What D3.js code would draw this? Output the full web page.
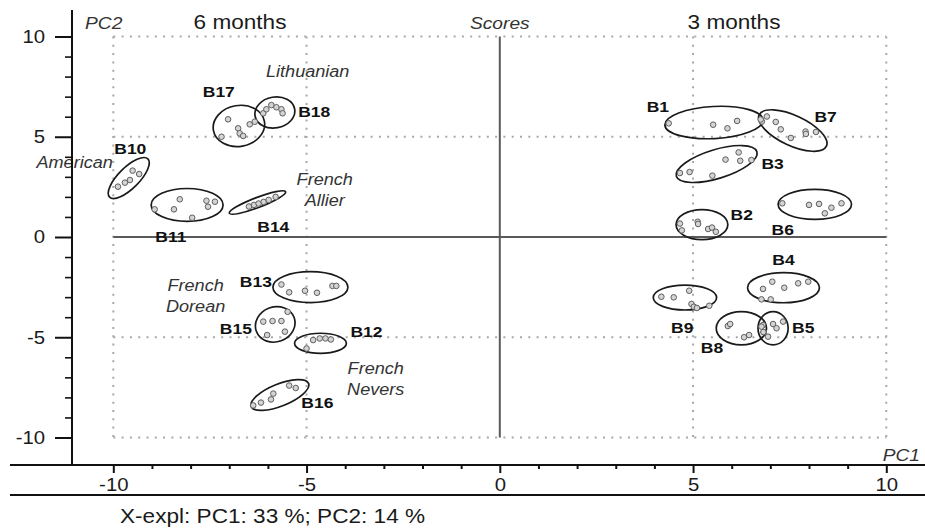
<!DOCTYPE html>
<html>
<head>
<meta charset="utf-8">
<script src="https://cdn.jsdelivr.net/npm/d3@7"></script>
<style>
  html, body { margin: 0; padding: 0; background: #fff; }
  svg { display: block; font-family: "Liberation Sans", Arial, Helvetica, sans-serif; }
</style>
</head>
<body>
<svg id="chart" width="925" height="531"></svg>
<script>
// PCA scores, one entry per sample group
const groups = ['B1', 'B2', 'B3', 'B4', 'B5', 'B6', 'B7', 'B8', 'B9',
                'B10', 'B11', 'B12', 'B13', 'B14', 'B15', 'B16', 'B17', 'B18'];

const pc1 = [
  [4.37, 5.52, 5.89, 6.14, 6.78],
  [4.66, 4.71, 5.12, 5.13, 5.39, 5.49, 5.59],
  [4.66, 4.91, 5.50, 5.84, 6.18, 6.22, 6.51],
  [6.81, 7.05, 7.36, 7.72, 7.98, 6.77, 7.01],
  [6.81, 7.07, 7.16, 7.33, 6.83, 6.94],
  [7.31, 8.00, 8.26, 8.41, 8.58, 8.84],
  [6.75, 6.91, 7.14, 7.27, 7.53, 7.91, 7.92, 8.18],
  [5.90, 5.96, 6.32, 6.45, 6.77, 6.82],
  [4.18, 4.50, 4.90, 4.96, 5.02, 5.10, 5.42],
  [-9.88, -9.70, -9.57, -9.50, -9.33],
  [-8.93, -8.43, -8.28, -7.96, -7.59, -7.55, -7.37],
  [-5.00, -4.83, -4.66, -4.51, -4.37],
  [-5.65, -5.45, -5.04, -4.73, -4.33, -4.23],
  [-6.49, -6.36, -6.24, -6.11, -5.98, -5.80],
  [-6.12, -5.88, -5.65, -6.02, -5.56, -5.49],
  [-6.38, -6.18, -5.92, -5.86, -5.45, -5.28],
  [-7.03, -7.20, -6.77, -6.73, -6.64, -6.47, -6.34],
  [-6.12, -6.04, -5.91, -5.78, -5.65, -5.62]
];

const pc2 = [
  [5.67, 5.60, 5.42, 5.79, 5.76],
  [0.67, 0.33, 0.76, 0.65, 0.40, 0.47, 0.26],
  [3.19, 3.24, 3.06, 3.86, 4.22, 3.80, 3.84],
  [-2.59, -2.23, -2.53, -2.31, -2.23, -3.11, -3.11],
  [-4.39, -4.34, -4.55, -4.22, -4.74, -4.97],
  [1.68, 1.60, 1.65, 1.18, 1.46, 1.68],
  [5.86, 6.01, 5.74, 5.37, 4.94, 5.26, 5.14, 5.24],
  [-4.44, -4.34, -5.00, -4.89, -4.47, -4.74],
  [-2.98, -3.01, -2.68, -3.34, -3.48, -3.54, -3.43],
  [2.51, 2.71, 2.84, 3.31, 3.14],
  [1.38, 1.38, 1.88, 0.96, 1.81, 1.51, 1.76],
  [-5.56, -5.14, -5.06, -5.06, -5.11],
  [-2.37, -2.76, -2.68, -2.78, -2.44, -2.44],
  [1.52, 1.60, 1.67, 1.75, 1.85, 2.00],
  [-4.22, -4.19, -4.19, -4.89, -4.72, -3.73],
  [-8.40, -8.26, -8.10, -7.81, -7.41, -7.53],
  [5.87, 5.00, 5.42, 5.17, 5.04, 5.62, 5.75],
  [6.17, 6.37, 6.58, 6.47, 6.37, 6.17]
];

// group ellipses: centre (PC1, PC2), half axes (PC1 units, PC2 units), tilt in degrees
const ellipseCentre = [
  [5.54, 5.71], [5.23, 0.62], [5.61, 3.64], [7.34, -2.53], [7.07, -4.55], [8.15, 1.63],
  [7.58, 5.31], [6.25, -4.55], [4.79, -3.02], [-9.60, 2.94], [-8.09, 1.60], [-4.64, -5.30],
  [-4.90, -2.50], [-6.27, 1.72], [-5.81, -4.36], [-5.69, -7.88], [-6.75, 5.54], [-5.82, 6.21]
];
const ellipseAxes = [
  [1.27, 0.80], [0.67, 0.75], [1.09, 0.72], [0.93, 0.75], [0.39, 0.83], [0.95, 0.75],
  [0.96, 0.75], [0.65, 0.83], [0.82, 0.62], [0.70, 0.52], [0.93, 0.82], [0.67, 0.50],
  [0.97, 0.77], [0.78, 0.25], [0.52, 0.87], [0.80, 0.55], [0.67, 1.02], [0.52, 0.77]
];
const ellipseTilt = [-3, 0, -17, 0, 0, 0, 25, 0, 0, -45, 0, 0, 0, -21, -20, -22, -10, -10];

// where each group name sits (PC1, PC2)
const labelAt = [
  [4.09, 6.23], [6.26, 0.85], [7.06, 3.39], [7.34, -1.40], [7.85, -4.79], [7.32, 0.10],
  [8.43, 5.74], [5.49, -5.79], [4.72, -4.79], [-9.56, 4.14], [-8.51, -0.25], [-3.45, -4.99],
  [-6.31, -2.49], [-5.86, 0.25], [-6.83, -4.84], [-4.72, -8.53], [-7.27, 6.98], [-4.80, 5.99]
];

const originText = [['Lithuanian'], ['American'], ['French', 'Allier'], ['French', 'Dorean'], ['French', 'Nevers']];
const originAt = [[-4.97, 7.98], [-11.0, 3.44], [-4.53, 2.59], [-7.87, -2.69], [-3.21, -6.83]];

const majorTicks = [-10, -5, 0, 5, 10];
const tickLabels = ['-10', '-5', '0', '5', '10'];
const minorTicks = [-9, -8, -7, -6, -4, -3, -2, -1, 1, 2, 3, 4, 6, 7, 8, 9];
const explainedPct = [33, 14];

const STRETCH = 1.13;
const axisX = 72, axisY = 465;

const svg = d3.select('#chart');
svg.append('rect').attr('width', 925).attr('height', 531).attr('fill', '#fff');

const x = d3.scaleLinear().domain([-10, 10]).range([113.3, 886.3]);
const y = d3.scaleLinear().domain([-10, 10]).range([437.5, 36.5]);

function txt(parent, px, py, s, size, opts) {
  opts = opts || {};
  return parent.append('text')
    .attr('transform', 'translate(' + px + ',' + py + ') scale(' + STRETCH + ',1)')
    .attr('text-anchor', opts.anchor || 'start')
    .attr('font-size', size)
    .attr('font-weight', opts.weight || 'normal')
    .attr('font-style', opts.style || 'normal')
    .attr('fill', opts.fill || '#1a1a1a')
    .text(s);
}

// dotted grid
const grid = svg.append('g')
  .attr('stroke', '#a8a8a8')
  .attr('stroke-width', 2)
  .attr('stroke-dasharray', '2,6.3');
majorTicks.filter(v => v !== 0).forEach(v => {
  grid.append('line').attr('x1', x(v)).attr('x2', x(v)).attr('y1', y(10)).attr('y2', y(-10));
  grid.append('line').attr('y1', y(v)).attr('y2', y(v)).attr('x1', x(-10)).attr('x2', x(10));
});

// zero lines
svg.append('line').attr('x1', x(-10)).attr('x2', x(10)).attr('y1', y(0)).attr('y2', y(0))
  .attr('stroke', '#5a5a5a').attr('stroke-width', 2);
svg.append('line').attr('x1', x(0)).attr('x2', x(0)).attr('y1', y(10)).attr('y2', y(-10))
  .attr('stroke', '#5a5a5a').attr('stroke-width', 2);

// ellipses
svg.append('g').selectAll('ellipse')
  .data(groups.map((g, i) => i))
  .enter()
  .append('ellipse')
  .attr('cx', i => x(ellipseCentre[i][0]))
  .attr('cy', i => y(ellipseCentre[i][1]))
  .attr('rx', i => x(ellipseCentre[i][0] + ellipseAxes[i][0]) - x(ellipseCentre[i][0]))
  .attr('ry', i => y(ellipseCentre[i][1]) - y(ellipseCentre[i][1] + ellipseAxes[i][1]))
  .attr('transform', i => 'rotate(' + ellipseTilt[i] + ',' + x(ellipseCentre[i][0]) + ',' + y(ellipseCentre[i][1]) + ')')
  .attr('fill', 'none')
  .attr('stroke', '#1a1a1a')
  .attr('stroke-width', 1.7);

// score points
const points = [];
groups.forEach((g, i) => pc1[i].forEach((v, j) => points.push([v, pc2[i][j]])));
svg.append('g').selectAll('circle')
  .data(points)
  .enter()
  .append('circle')
  .attr('cx', d => x(d[0]))
  .attr('cy', d => y(d[1]))
  .attr('r', 2.8)
  .attr('fill', '#d4d4d4')
  .attr('stroke', '#5e5e5e')
  .attr('stroke-width', 1);

// group names
const lab = svg.append('g');
groups.forEach((g, i) => {
  txt(lab, x(labelAt[i][0]), y(labelAt[i][1]), g, 15.5, {anchor: 'middle', weight: 'bold', fill: '#111'});
});

// origin names
originText.forEach((lines, i) => {
  lines.forEach((s, k) => {
    txt(lab, x(originAt[i][0]), y(originAt[i][1]) + k * 21, s, 16, {anchor: 'middle', style: 'italic', fill: '#333'});
  });
});

// axes
function restyle(sel, size) {
  sel.select('.domain').remove();
  sel.selectAll('.tick line').attr('stroke', '#111');
  sel.selectAll('.tick text').each(function () {
    const t = d3.select(this);
    const tx = +t.attr('x') || 0, ty = +t.attr('y') || 0;
    t.attr('x', 0).attr('y', 0)
      .attr('transform', 'translate(' + tx + ',' + ty + ') scale(' + STRETCH + ',1)')
      .attr('font-size', size)
      .attr('font-family', '"Liberation Sans", Arial, sans-serif')
      .attr('fill', '#1a1a1a');
  });
}

const yMajor = svg.append('g').attr('transform', 'translate(' + axisX + ',0)')
  .call(d3.axisLeft(y).tickValues(majorTicks).tickSize(17).tickPadding(10).tickFormat((d, i) => tickLabels[i]));
restyle(yMajor, 18);
yMajor.selectAll('.tick line').attr('stroke-width', 2);
const yMinor = svg.append('g').attr('transform', 'translate(' + axisX + ',0)')
  .call(d3.axisLeft(y).tickValues(minorTicks).tickSize(7).tickFormat(''));
restyle(yMinor, 18);
yMinor.selectAll('.tick line').attr('stroke-width', 1.6);

const xMajor = svg.append('g').attr('transform', 'translate(0,' + axisY + ')')
  .call(d3.axisBottom(x).tickValues(majorTicks).tickSize(8).tickPadding(5).tickFormat((d, i) => tickLabels[i]));
restyle(xMajor, 18);
xMajor.selectAll('.tick line').attr('stroke-width', 2);
const xMinor = svg.append('g').attr('transform', 'translate(0,' + axisY + ')')
  .call(d3.axisBottom(x).tickValues(minorTicks).tickSize(4).tickFormat(''));
restyle(xMinor, 18);
xMinor.selectAll('.tick line').attr('stroke-width', 2);

svg.append('line').attr('x1', axisX).attr('x2', axisX).attr('y1', 10).attr('y2', axisY + 1)
  .attr('stroke', '#111').attr('stroke-width', 2);
svg.append('line').attr('x1', 10).attr('x2', 925).attr('y1', axisY).attr('y2', axisY)
  .attr('stroke', '#111').attr('stroke-width', 2);
svg.append('line').attr('x1', 10).attr('x2', 925).attr('y1', 495).attr('y2', 495)
  .attr('stroke', '#111').attr('stroke-width', 2);

// titles
txt(svg, 85, 29, 'PC2', 17, {style: 'italic', fill: '#333'});
txt(svg, 240, 29, '6 months', 20, {anchor: 'middle'});
txt(svg, x(0), 29, 'Scores', 17, {anchor: 'middle', style: 'italic', fill: '#333'});
txt(svg, 734, 29, '3 months', 20, {anchor: 'middle'});
txt(svg, 920, 461, 'PC1', 17, {anchor: 'end', style: 'italic', fill: '#333'});
txt(svg, 120, 523, 'X-expl: PC1: ' + explainedPct[0] + ' %; PC2: ' + explainedPct[1] + ' %', 20);
</script>
</body>
</html>
